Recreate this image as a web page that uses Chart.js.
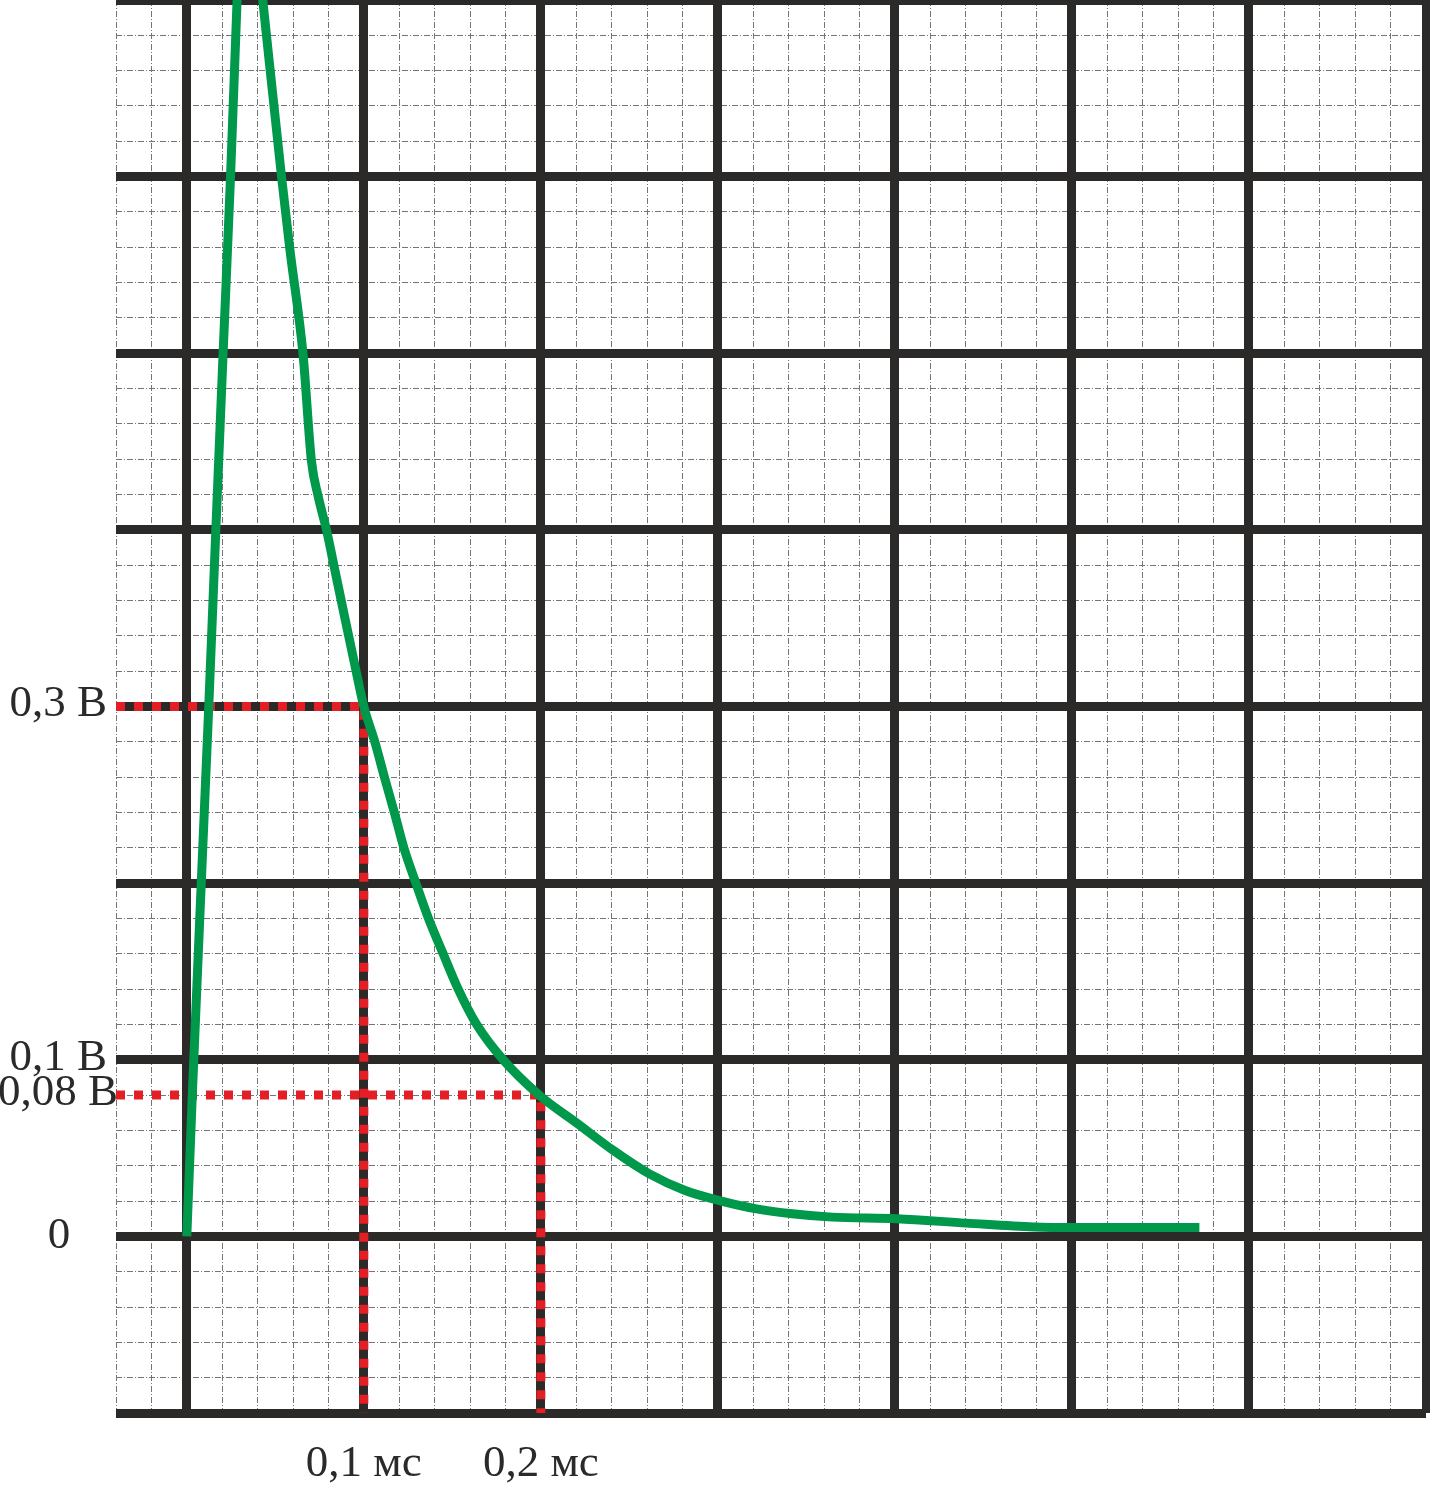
<!DOCTYPE html>
<html>
<head>
<meta charset="utf-8">
<title>Импульс напряжения</title>
<script src="https://cdn.jsdelivr.net/npm/chart.js@4.4.1/dist/chart.umd.min.js"></script>
<style>
  html, body { margin: 0; padding: 0; background: #fff; }
  #wrap { position: relative; width: 1430px; height: 1485px; }
</style>
</head>
<body>
<div id="wrap"><canvas id="pulseChart"></canvas></div>
<script>
// Pulse: time in ms, voltage in V
const timeMs = [0, 0.0031, 0.0124, 0.0164, 0.0205, 0.0247, 0.0284, 0.0323, 0.0431, 0.0535, 0.0582,
  0.0657, 0.0704, 0.0742, 0.0789, 0.0841, 0.0893, 0.0946, 0.1, 0.1062, 0.1119, 0.1175, 0.1226,
  0.1294, 0.1369, 0.1448, 0.1533, 0.1637, 0.1787, 0.1994, 0.2209, 0.241, 0.2613, 0.2815, 0.3009,
  0.3218, 0.342, 0.3647, 0.4012, 0.4403, 0.4782, 0.5014, 0.572];
const voltage = [0, 0.08, 0.3, 0.4, 0.5, 0.6, 0.7, 0.8, 0.698, 0.6, 0.559,
  0.499, 0.439, 0.419, 0.4, 0.375, 0.35, 0.325, 0.3, 0.28, 0.259, 0.239, 0.22,
  0.2, 0.179, 0.16, 0.14, 0.12, 0.1, 0.0797, 0.0637, 0.0486, 0.0354, 0.026, 0.0203,
  0.0156, 0.0128, 0.0109, 0.01, 0.0075, 0.0053, 0.005, 0.005];

// Red dotted guide lines
const guide1Time = [-0.04, 0.1, 0.1];
const guide1Volt = [0.3, 0.3, -0.1];
const guide2Time = [-0.04, 0.2, 0.2];
const guide2Volt = [0.08, 0.08, -0.1];

// Labels
const xLabelValues = [0.1, 0.2];
const xLabelTexts = ['0,1 мс', '0,2 мс'];
const yLabelValues = [0, 0.08, 0.1, 0.3];
const yLabelTexts = ['0', '0,08 В', '0,1 В', '0,3 В'];

// Axis ranges and grid steps
const xRange = [-0.04, 0.7];
const yRange = [-0.1, 0.7];
const majorStep = 0.1;
const minorStep = 0.02;

const ink = '#2b2a29';
const green = '#00984a';
const red = '#e31e24';
const fontFamily = '"Liberation Serif", "Times New Roman", serif';

function stepTicks(min, max, step) {
    const out = [];
    const n = Math.round((max - min) / step);
    for (let i = 0; i <= n; i++) {
        out.push(Math.round((min + i * step) * 1000) / 1000);
    }
    return out;
}

function toPoints(xs, ys) {
    return xs.map((x, i) => ({ x: x, y: ys[i] }));
}

const xMajor = stepTicks(0, xRange[1], majorStep);
const yMajor = stepTicks(yRange[0], yRange[1], majorStep);
const xMinor = stepTicks(xRange[0], xRange[1], minorStep);
const yMinor = stepTicks(yRange[0], yRange[1], minorStep);

// y labels are placed by hand in the original, so draw them here
const yLabelPlugin = {
    id: 'yLabels',
    afterDraw(chart) {
        const { ctx, chartArea, scales } = chart;
        ctx.save();
        ctx.font = '45px ' + fontFamily;
        ctx.fillStyle = ink;
        ctx.textBaseline = 'middle';
        yLabelValues.forEach((v, i) => {
            const y = scales.y.getPixelForValue(v);
            const text = yLabelTexts[i];
            if (v === 0) {
                ctx.textAlign = 'center';
                ctx.fillText(text, chartArea.left - 57, y);
            } else if (v === 0.08) {
                ctx.textAlign = 'right';
                ctx.fillText(text, chartArea.left + 2, y - 2);
            } else {
                ctx.textAlign = 'right';
                ctx.fillText(text, chartArea.left - 9, y - 2);
            }
        });
        ctx.restore();
    }
};

const minorGrid = {
    color: '#757575',
    lineWidth: 1,
    drawTicks: false,
    z: -2
};

// fixed box sizes so the plot area lands where the original has it
function fixHeight(h) {
    return s => { s.height = h; s.paddingLeft = 0; s.paddingRight = 0; };
}
function fixWidth(w) {
    return s => { s.width = w; s.paddingTop = 0; s.paddingBottom = 0; };
}

const ctx = document.getElementById('pulseChart').getContext('2d');

new Chart(ctx, {
    type: 'line',
    data: {
        datasets: [
            {
                data: toPoints(timeMs, voltage),
                borderColor: green,
                borderWidth: 9,
                pointRadius: 0,
                cubicInterpolationMode: 'monotone',
                fill: false
            },
            {
                data: toPoints(guide1Time, guide1Volt),
                borderColor: red,
                borderWidth: 9,
                borderDash: [9, 9],
                pointRadius: 0,
                tension: 0,
                fill: false
            },
            {
                data: toPoints(guide2Time, guide2Volt),
                borderColor: red,
                borderWidth: 9,
                borderDash: [9, 9],
                pointRadius: 0,
                tension: 0,
                fill: false
            }
        ]
    },
    options: {
        responsive: true,
        maintainAspectRatio: false,
        animation: false,
        layout: { padding: { top: 0, right: 4, bottom: 0, left: 0 } },
        plugins: {
            legend: { display: false },
            tooltip: { enabled: false }
        },
        scales: {
            xMinor: {
                type: 'linear',
                position: 'bottom',
                min: xRange[0],
                max: xRange[1],
                afterBuildTicks: s => { s.ticks = xMinor.map(v => ({ value: v })); },
                afterFit: fixHeight(0),
                grid: minorGrid,
                border: { display: false, dash: [6, 2, 1, 2] },
                ticks: { display: false }
            },
            yMinor: {
                type: 'linear',
                position: 'left',
                min: yRange[0],
                max: yRange[1],
                afterBuildTicks: s => { s.ticks = yMinor.map(v => ({ value: v })); },
                afterFit: fixWidth(0),
                grid: minorGrid,
                border: { display: false, dash: [6, 2, 1, 2] },
                ticks: { display: false }
            },
            x: {
                type: 'linear',
                position: 'bottom',
                min: xRange[0],
                max: xRange[1],
                afterBuildTicks: s => { s.ticks = xMajor.map(v => ({ value: v })); },
                afterFit: fixHeight(72),
                grid: { color: ink, lineWidth: 9, drawTicks: false, z: -1 },
                border: { display: false },
                ticks: {
                    autoSkip: false,
                    maxRotation: 0,
                    padding: 24,
                    color: ink,
                    font: { family: fontFamily, size: 45 },
                    callback: function(value) {
                        const i = xLabelValues.findIndex(v => Math.abs(v - value) < 1e-6);
                        return i >= 0 ? xLabelTexts[i] : '';
                    }
                }
            },
            y: {
                type: 'linear',
                position: 'left',
                min: yRange[0],
                max: yRange[1],
                afterBuildTicks: s => { s.ticks = yMajor.map(v => ({ value: v })); },
                afterFit: fixWidth(116),
                grid: { color: ink, lineWidth: 9, drawTicks: false, z: -1 },
                border: { display: false },
                ticks: { display: false }
            }
        }
    },
    plugins: [yLabelPlugin]
});
</script>
</body>
</html>
